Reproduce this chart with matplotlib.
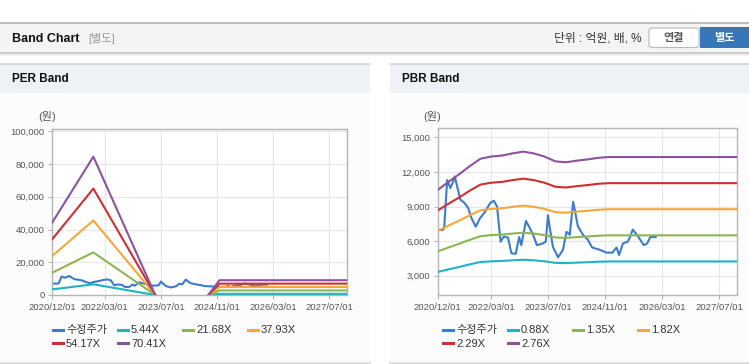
import numpy as np
import pandas as pd
import matplotlib
matplotlib.use("Agg")
import matplotlib.pyplot as plt
from matplotlib.patches import Rectangle, FancyBboxPatch
from matplotlib.lines import Line2D

plt.rcParams['font.family'] = ['Liberation Sans', 'Noto Sans CJK KR', 'DejaVu Sans']

W, H = 749, 364

# adjusted price (수정주가)
price_dates = ['2020-12-01', '2021-01-10', '2021-01-25', '2021-02-20', '2021-03-19', '2021-04-10',
               '2021-04-26', '2021-05-10', '2021-06-12', '2021-07-19', '2021-08-19', '2021-09-15',
               '2021-10-22', '2021-11-28', '2022-01-10', '2022-02-22', '2022-03-25', '2022-04-22',
               '2022-05-22', '2022-06-19', '2022-07-25', '2022-08-22', '2022-09-28', '2022-10-28',
               '2022-11-15', '2022-12-25', '2023-01-28', '2023-02-24', '2023-03-28', '2023-05-18',
               '2023-06-12', '2023-07-01', '2023-07-15', '2023-08-12', '2023-09-25', '2023-11-06',
               '2023-12-06', '2024-01-03', '2024-02-01', '2024-02-15', '2024-03-12', '2024-04-25',
               '2024-06-06', '2024-07-12', '2024-09-15', '2024-11-12', '2025-01-01', '2025-02-06',
               '2025-02-27', '2025-04-01', '2025-05-12', '2025-06-03', '2025-06-24', '2025-08-06',
               '2025-09-25', '2025-10-25', '2025-11-21', '2026-01-06']
price = [7000, 6950, 7100, 11300, 10600, 11100,
         11600, 11000, 9600, 9300, 8850, 8000,
         7250, 8000, 8550, 9300, 9500, 9000,
         5950, 6400, 6300, 4950, 4900, 6350,
         5650, 7750, 7100, 6550, 5650, 5800,
         5950, 8250, 7250, 5500, 4600, 5250,
         6800, 6550, 9400, 8700, 7300, 6550,
         6100, 5450, 5250, 5000, 5000, 5450,
         4800, 5800, 5950, 6400, 7000, 6450,
         5650, 5800, 6350, 6350]

# PER band: EPS basis (gap where EPS is negative)
eps_dates = ['2020-12-01', '2021-11-22', '2023-05-13', '2024-01-01', '2024-08-16', '2024-11-20', '2027-12-04']
eps = [630, 1200, 0, np.nan, 0, 128, 128]
per_mult = [5.44, 21.68, 37.93, 54.17, 70.41]
per_labels = ['5.44X', '21.68X', '37.93X', '54.17X', '70.41X']

# PBR band: BPS basis
bps_dates = ['2020-12-01', '2021-03-01', '2021-06-01', '2021-09-01', '2021-12-01', '2022-03-01',
             '2022-06-01', '2022-09-01', '2022-12-01', '2023-03-01', '2023-06-01', '2023-09-01',
             '2023-12-01', '2024-03-01', '2024-06-01', '2024-09-01', '2024-12-01', '2027-12-04']
bps = [3780, 4030, 4270, 4530, 4760, 4830,
       4860, 4930, 4985, 4930, 4830, 4680,
       4650, 4700, 4740, 4790, 4815, 4815]
pbr_mult = [0.88, 1.35, 1.82, 2.29, 2.76]
pbr_labels = ['0.88X', '1.35X', '1.82X', '2.29X', '2.76X']

tick_dates = ['2020-12-01', '2022-03-01', '2023-07-01', '2024-11-01', '2026-03-01', '2027-07-01']
tick_labels = ['2020/12/01', '2022/03/01', '2023/07/01', '2024/11/01', '2026/03/01', '2027/07/01']

price_color = '#3d7bcc'
band_colors = ['#1fb3c3', '#8db650', '#f4a73a', '#cc3030', '#8c529f']


def fx(x):
    return x / W


def fy(y):
    return 1 - y / H


fig = plt.figure(figsize=(W / 100, H / 100), dpi=100)
fig.patch.set_facecolor('white')

# top header bar
fig.add_artist(Rectangle((0, fy(53)), 1, (53 - 22) / H, transform=fig.transFigure,
                         facecolor='#f4f4f4', edgecolor='none', zorder=0))
fig.add_artist(Line2D([0, 1], [fy(22.5), fy(22.5)], color='#b3b3b3', lw=1.2))
fig.add_artist(Line2D([0, 1], [fy(53), fy(53)], color='#c4c4c4', lw=1.2))
fig.add_artist(Line2D([0, 1], [fy(54.5), fy(54.5)], color='#ececec', lw=1.2))
fig.text(fx(12), fy(38.5), 'Band Chart', fontsize=9, fontweight='bold', color='#111111', va='center')
fig.text(fx(88), fy(38.5), '[별도]', fontsize=8, color='#999999', va='center')
fig.text(fx(642), fy(38.5), '단위 : 억원, 배, %', fontsize=8.5, color='#333333', va='center', ha='right')
fig.add_artist(FancyBboxPatch((fx(649), fy(47.5)), (699 - 649) / W, 19.5 / H, transform=fig.transFigure,
                              boxstyle='round,pad=0,rounding_size=0.006', facecolor='white',
                              edgecolor='#b8b8b8', lw=0.8))
fig.text(fx(674), fy(38.5), '연결', fontsize=8, fontweight='bold', color='#555555', va='center', ha='center')
fig.add_artist(Rectangle((fx(700), fy(48)), (W - 700) / W, 20.5 / H, transform=fig.transFigure,
                         facecolor='#3677b9', edgecolor='none'))
fig.text(fx(724.5), fy(38.5), '별도', fontsize=8, fontweight='bold', color='white', va='center', ha='center')

# panel headers and bottom lines
for x0, x1, title in [(0, 370, 'PER Band'), (390, W, 'PBR Band')]:
    fig.add_artist(Rectangle((fx(x0), fy(93)), (x1 - x0) / W, 29 / H, transform=fig.transFigure,
                             facecolor='#eef2f7', edgecolor='none', zorder=0))
    fig.add_artist(Rectangle((fx(x0), fy(362)), (x1 - x0) / W, (362 - 93) / H, transform=fig.transFigure,
                             facecolor='#fcfcfc', edgecolor='none', zorder=0))
    fig.add_artist(Line2D([fx(x0), fx(x1)], [fy(64), fy(64)], color='#d3d3d3', lw=1.2))
    fig.add_artist(Line2D([fx(x0), fx(x1)], [fy(362.5), fy(362.5)], color='#d8d8d8', lw=1.2))
    fig.text(fx(x0 + 12), fy(79.5), title, fontsize=8.5, fontweight='bold', color='#111111', va='center')

pdates = pd.to_datetime(price_dates)
xmin, xmax = pd.Timestamp('2020-12-01'), pd.Timestamp('2027-12-04')


def setup(ax):
    ax.set_facecolor('white')
    ax.set_xlim(xmin, xmax)
    ax.set_xticks(pd.to_datetime(tick_dates))
    ax.set_xticklabels(tick_labels)
    ax.grid(True, color='#e6e6e6', lw=0.8)
    ax.set_axisbelow(True)
    for s in ax.spines.values():
        s.set_color('#b5b5b5')
        s.set_linewidth(1)
    ax.tick_params(axis='both', length=3, width=0.8, color='#b5b5b5', labelsize=6.8,
                   labelcolor='#555555', pad=2.5)


def legend(x_start, labels, colors):
    for i, (lab, col) in enumerate(zip(labels, colors)):
        r, c = divmod(i, 4)
        x = x_start + c * 65
        y = 330 + r * 13.3
        fig.add_artist(Line2D([fx(x), fx(x + 10.6)], [fy(y), fy(y)], color=col, lw=2.2))
        fig.text(fx(x + 13.3), fy(y + 0.3), lab, fontsize=8, color='#333333', va='center')


# PER chart
ax1 = fig.add_axes([fx(52.3), fy(295), (347.3 - 52.3) / W, (295 - 128.7) / H])
setup(ax1)
ax1.plot(pdates, price, color=price_color, lw=1.5, zorder=2)
edates = pd.to_datetime(eps_dates)
for m, col in zip(per_mult, band_colors):
    ax1.plot(edates, [m * e for e in eps], color=col, lw=1.5, zorder=3)
ax1.set_ylim(0, 101600)
ax1.set_yticks([0, 20000, 40000, 60000, 80000, 100000])
ax1.set_yticklabels(['0', '20,000', '40,000', '60,000', '80,000', '100,000'])
fig.text(fx(47), fy(117), '(원)', fontsize=8, color='#555555', va='center', ha='center')
legend(52.7, ['수정주가'] + per_labels, [price_color] + band_colors)

# PBR chart
ax2 = fig.add_axes([fx(437.7), fy(295), (737.3 - 437.7) / W, (295 - 128.3) / H])
setup(ax2)
ax2.plot(pdates, price, color=price_color, lw=1.5, zorder=2)
bdates = pd.to_datetime(bps_dates)
for m, col in zip(pbr_mult, band_colors):
    ax2.plot(bdates, [m * b for b in bps], color=col, lw=1.5, zorder=3)
ax2.set_ylim(1330, 15780)
ax2.set_yticks([3000, 6000, 9000, 12000, 15000])
ax2.set_yticklabels(['3,000', '6,000', '9,000', '12,000', '15,000'])
fig.text(fx(432), fy(117), '(원)', fontsize=8, color='#555555', va='center', ha='center')
legend(442.7, ['수정주가'] + pbr_labels, [price_color] + band_colors)

fig.savefig('out.png', dpi=100)
